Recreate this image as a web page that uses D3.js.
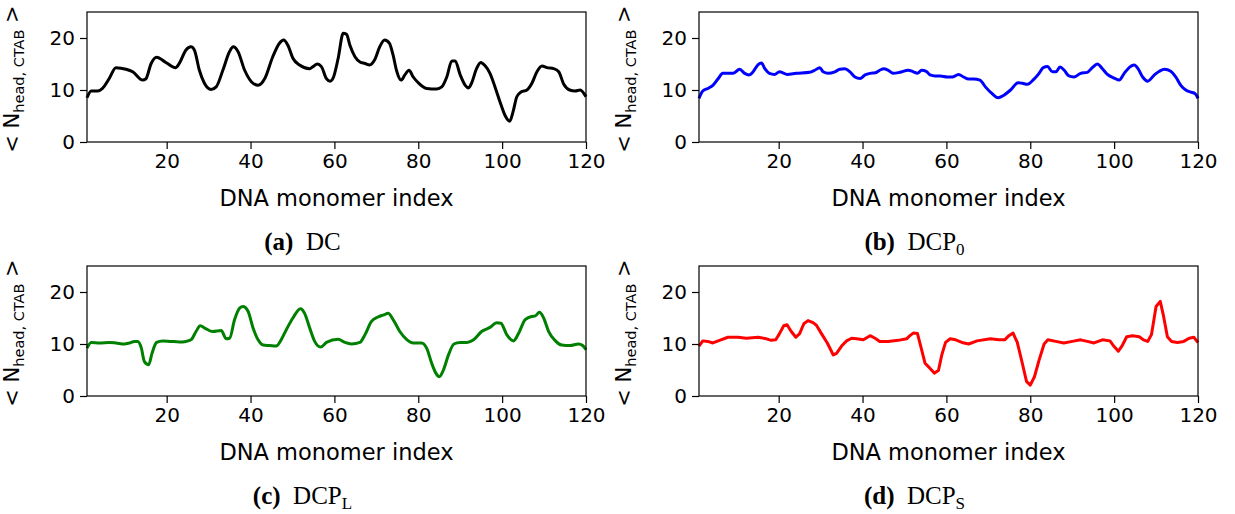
<!DOCTYPE html>
<html><head><meta charset="utf-8">
<script src="https://cdn.jsdelivr.net/npm/d3@7"></script>
<style>body{margin:0;background:#fff} svg text{font-family:"DejaVu Sans",sans-serif}</style>
</head><body><svg id="c" width="1235" height="514"></svg>
<script>
const xTicks = [20, 40, 60, 80, 100, 120];
const yTicks = [0, 10, 20];
const xLabel = "DNA monomer index";

const dcIdx = [1,2,3.5,4.7,6.3,7.9,10.3,11.9,14.3,15,16.3,17.6,19.8,22.1,23,24.6,25.8,26.6,27.8,29,30.6,31.8,33.4,35,35.9,37,38.6,40.2,41.8,43.4,45.3,46.9,47.9,48.9,50.1,51.7,54.1,54.9,55.9,56.9,58.1,59,59.8,60.9,62.1,62.9,63.7,64.9,66.1,67.3,68.4,69.6,70.8,72,73.1,74,74.8,75.9,76.8,77.8,78.8,80,82,84.4,85.6,86.8,88,88.8,90,91.2,92,92.7,93.9,94.9,95.9,97.1,98.3,99.5,100.7,101.8,102.6,103.5,104.5,105.9,107.1,108.3,109.5,110.7,112.3,113.5,114.7,116.1,117.4,118.6,120];
const dcVal = [8.5,9.8,9.8,10.3,12.2,14.3,14.0,13.5,11.9,12.1,15.1,16.3,15.3,14.3,15.1,17.7,18.3,17.7,13.8,11.3,10.1,10.6,13.8,17.4,18.3,17.4,13.8,11.6,10.9,12.2,16.4,19.0,19.6,18.6,16.1,14.8,14.1,14.5,15.0,14.5,12.2,11.7,12.5,16.1,20.9,20.7,18.6,16.4,15.4,15.1,14.8,15.8,18.3,19.6,19.0,16.7,13.8,11.9,12.9,13.8,12.5,11.4,10.3,10.2,10.6,12.5,15.6,15.6,12.9,10.9,10.4,11.3,14.1,15.3,14.7,13.2,10.6,7.7,5.1,4.0,5.8,8.7,9.6,10.0,11.3,13.5,14.6,14.3,14.1,13.5,11.1,10.0,9.8,10.0,8.7];

const dcp0Idx = [1,1.9,3.1,4.3,5.5,6.7,7.9,9.1,10.7,11.9,12.9,13.9,15.1,15.9,16.7,17.8,19,20.2,21,22,24.2,27.4,28.6,29.8,30.6,31.8,33.4,34.6,35.8,37,38.2,39.4,40.6,41.8,43,44.1,45.1,46.1,47.3,48.9,50.9,52.1,53.1,54.1,55.2,56.1,57.3,58.5,60.2,61.4,62.9,64.1,65.3,66.5,68,69.3,70.9,72.3,73.7,75.3,77.1,78.1,79.3,80.9,82.1,83.1,84.1,85.3,86.1,87.1,88.1,89.2,90.4,92,93.6,94.8,96,97.2,98.4,100,101.2,102.4,103.7,104.8,105.7,106.8,108,109.6,110.8,112,113.5,114.7,115.9,117.1,118.3,119.3,120];
const dcp0Val = [8.4,9.8,10.3,10.9,12.1,13.2,13.2,13.2,14.0,13.2,12.9,13.5,14.9,15.2,14.1,13.2,13.0,13.5,13.3,13.0,13.2,13.4,13.8,14.3,13.5,13.2,13.5,14.0,14.1,13.5,12.5,12.2,12.9,13.2,13.3,13.8,14.1,13.8,13.2,13.4,13.8,13.5,13.2,13.8,13.6,12.9,12.7,12.7,12.5,12.5,13.0,12.5,12.1,12.1,11.9,10.6,9.3,8.5,9.0,10.0,11.4,11.3,11.1,12.1,13.2,14.3,14.5,13.5,13.5,14.4,13.8,12.7,12.5,13.2,13.4,14.3,15.0,14.1,13.0,12.3,11.9,13.2,14.4,14.8,14.1,12.5,11.7,12.9,13.6,14.0,13.6,12.5,10.9,10.0,9.6,9.3,8.4];

const dcpLIdx = [1,2,4,6.3,7.9,9.9,11.1,12.3,13.1,13.9,14.7,15.7,16.5,17.6,19,21,23,24.6,25.8,27,28,29.2,31,33,34.2,35,36.2,37.4,38.2,39.4,40.6,41.8,43,44.6,46.1,47.3,48.5,50.1,51.9,52.9,54.1,55.3,56.7,58.1,60.9,62.5,64.1,66.1,67.3,68.8,70.4,71.8,72.8,74,75.6,77.2,78.8,80.8,82,83.2,84.2,85,86,87.2,88.5,90,91.6,93.2,95.1,97.1,98.7,99.7,101.1,102.7,103.9,105.5,107.1,107.9,108.9,109.9,111.1,112.6,114.2,116.2,118.2,119.2,120];
const dcpLVal = [9.2,10.3,10.2,10.3,10.2,10.0,10.2,10.5,10.5,9.4,6.6,6.0,8.2,10.3,10.6,10.5,10.4,10.5,10.8,12.4,13.5,13.0,12.4,12.6,11.0,11.1,14.7,16.9,17.2,16.3,13.1,10.8,9.8,9.7,9.6,10.8,12.7,15.0,16.8,15.9,13.1,10.5,9.4,10.3,10.9,10.3,10.0,10.3,11.8,14.3,15.2,15.6,15.9,14.7,12.4,10.9,10.2,10.2,9.2,6.3,4.4,3.7,5.0,7.9,10.0,10.3,10.3,10.8,12.4,13.2,14.1,14.0,11.8,10.6,12.0,14.7,15.3,15.4,16.1,15.0,12.4,10.7,9.8,9.7,10.0,9.7,8.9];

const dcpSIdx = [1,1.9,3.1,4.3,5.9,7.9,10.3,12.3,15.1,17.1,18.2,19.3,20.2,21.2,22,23,24.1,25,26,27,28.2,29,30.2,31.6,32.4,33,33.8,35,36.2,37.4,38.6,40.2,41.8,43,44.1,46.1,48.5,50.5,51.3,52.1,53.1,53.9,54.9,56,57.1,58.1,58.9,59.8,60.9,62.2,63.7,65.3,67.3,70.5,72.5,73.9,74.9,75.9,76.9,78.1,79.1,80,81,82.1,83.3,84.2,86.1,88,90,92,93.6,95.2,97.2,99,100,101,102,103,104.4,106,107,108,108.9,110,111,111.8,112.7,113.7,115.1,116.6,117.9,119,120];
const dcpSVal = [9.6,10.6,10.5,10.2,10.7,11.3,11.3,11.1,11.3,11.0,10.7,10.8,12.0,13.5,13.7,12.4,11.3,12.0,13.9,14.5,14.1,13.6,12.0,10.2,8.9,7.9,8.2,9.6,10.6,11.1,11.0,10.8,11.6,11.1,10.5,10.5,10.7,11.0,11.6,12.1,12.0,9.5,6.3,5.4,4.4,4.9,7.9,10.3,11.0,10.8,10.3,10.0,10.6,11.0,10.8,10.8,11.6,12.1,10.3,6.3,2.8,2.1,3.7,6.9,10.0,10.8,10.5,10.2,10.5,10.8,10.5,10.2,10.8,10.6,9.5,8.6,9.8,11.4,11.6,11.4,10.8,10.5,11.8,17.2,18.2,15.3,11.4,10.5,10.3,10.5,11.1,11.3,10.3];

const captions = [
  {tag: "(a)", main: "DC", sub: ""},
  {tag: "(b)", main: "DCP", sub: "0"},
  {tag: "(c)", main: "DCP", sub: "L"},
  {tag: "(d)", main: "DCP", sub: "S"}
];
const series = [
  {idx: dcIdx, val: dcVal, color: "#000000", curve: d3.curveMonotoneX},
  {idx: dcp0Idx, val: dcp0Val, color: "#0000ff", curve: d3.curveMonotoneX},
  {idx: dcpLIdx, val: dcpLVal, color: "#008000", curve: d3.curveMonotoneX},
  {idx: dcpSIdx, val: dcpSVal, color: "#ff0000", curve: d3.curveLinear}
];

const svg = d3.select("#c");
const W = 499, H = 130;
const origins = [[87, 12], [699, 12], [87, 266], [699, 266]];
const fs = 20, lfs = 22.5;

series.forEach((s, i) => {
  const [ox, oy] = origins[i];
  const g = svg.append("g").attr("transform", `translate(${ox},${oy})`);
  const x = d3.scaleLinear().domain([1, 120]).range([0, W]);
  const y = d3.scaleLinear().domain([0, 25]).range([H, 0]);

  const xa = g.append("g").attr("transform", `translate(0,${H})`)
    .call(d3.axisBottom(x).tickValues(xTicks).tickSize(7).tickPadding(5).tickFormat(d3.format("d")));
  const ya = g.append("g")
    .call(d3.axisLeft(y).tickValues(yTicks).tickSize(7).tickPadding(5).tickFormat(d3.format("d")));
  [xa, ya].forEach(a => {
    a.select(".domain").remove();
    a.selectAll("line").attr("stroke", "#000").attr("stroke-width", 1.2);
    a.selectAll("text").attr("fill", "#000").style("font-size", fs + "px").style("font-family", "DejaVu Sans");
  });

  const line = d3.line().x((d, k) => x(s.idx[k])).y(d => y(d)).curve(s.curve);
  g.append("path").datum(s.val).attr("d", line)
    .attr("fill", "none").attr("stroke", s.color).attr("stroke-width", 3)
    .attr("stroke-linejoin", "round").attr("stroke-linecap", "butt");

  g.append("rect").attr("width", W).attr("height", H)
    .attr("fill", "none").attr("stroke", "#000").attr("stroke-width", 1.2);

  g.append("text").attr("x", W / 2).attr("y", H + 64).attr("text-anchor", "middle")
    .style("font-size", lfs + "px").text(xLabel);

  const yl = g.append("text").attr("transform", `translate(-68,${H / 2 + 2}) rotate(-90)`)
    .attr("text-anchor", "middle").style("font-size", "21px");
  yl.append("tspan").text("< N");
  yl.append("tspan").attr("dy", 5).style("font-size", "14.5px").text("head, CTAB");
  yl.append("tspan").attr("dy", -5).text(" >");

  const c = captions[i];
  const ct = svg.append("text").attr("x", ox + W / 2 - 34).attr("y", oy + H + 108)
    .attr("text-anchor", "middle").style("font-family", "'Liberation Serif', serif").style("font-size", "25px");
  ct.append("tspan").style("font-family", "'Liberation Serif', serif").style("font-weight", "bold").text(c.tag);
  ct.append("tspan").style("font-family", "'Liberation Serif', serif").text("\u2002" + c.main);
  if (c.sub) ct.append("tspan").style("font-family", "'Liberation Serif', serif").attr("dy", 5).style("font-size", "17px").text(c.sub);
});
</script></body></html>
